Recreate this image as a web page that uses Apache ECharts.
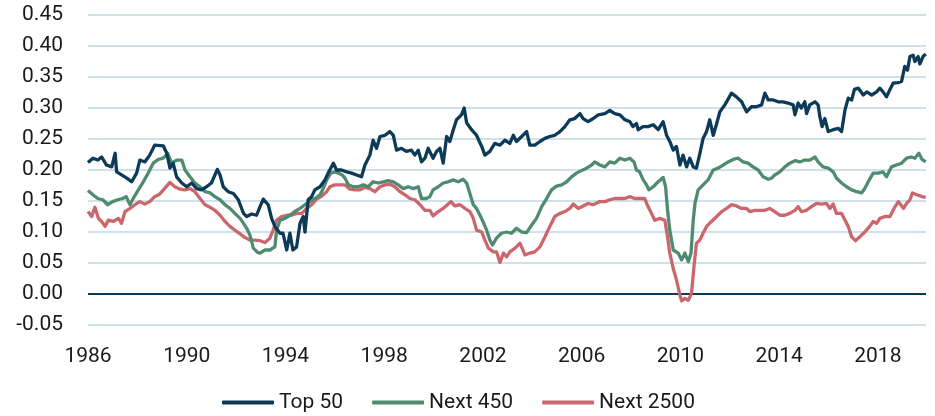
<!DOCTYPE html>
<html>
<head>
<meta charset="utf-8">
<script src="https://cdn.jsdelivr.net/npm/echarts@6/dist/echarts.min.js"></script>
<style>
html,body{margin:0;padding:0;background:#fff;}
#chart{width:935px;height:416px;}
</style>
</head>
<body>
<div id="chart"></div>
<script>
// ---- data (decimal years, share values) ----
const seriesNames = ['Top 50', 'Next 450', 'Next 2500'];
const yTicks = [-0.05, 0.45, 0.05]; // min, max, step
const xYears = [1986, 2019.95, 4];   // min, max, step

const top50Years = [1986.0,1986.2,1986.4,1986.55,1986.75,1986.96,1987.1,1987.16,1987.36,1987.57,1987.77,1987.97,1988.1,1988.3,1988.5,1988.7,1989.05,1989.19,1989.32,1989.45,1989.59,1989.8,1990.0,1990.2,1990.4,1990.6,1990.8,1991.0,1991.24,1991.35,1991.48,1991.68,1991.89,1992.09,1992.3,1992.43,1992.63,1992.83,1992.97,1993.1,1993.3,1993.44,1993.57,1993.78,1993.9,1994.05,1994.18,1994.3,1994.45,1994.59,1994.72,1994.79,1994.92,1995.06,1995.19,1995.4,1995.6,1995.73,1995.94,1996.07,1996.27,1996.48,1996.68,1996.88,1997.08,1997.22,1997.42,1997.55,1997.69,1997.83,1998.03,1998.23,1998.37,1998.5,1998.7,1998.9,1999.1,1999.24,1999.38,1999.51,1999.65,1999.78,1999.98,2000.12,2000.26,2000.39,2000.53,2000.66,2000.8,2000.93,2001.13,2001.24,2001.34,2001.54,2001.74,2001.95,2002.08,2002.28,2002.48,2002.69,2002.89,2003.09,2003.23,2003.36,2003.57,2003.77,2003.9,2004.1,2004.31,2004.51,2004.71,2004.91,2005.12,2005.32,2005.52,2005.72,2005.93,2006.06,2006.26,2006.47,2006.67,2006.94,2007.14,2007.34,2007.55,2007.75,2007.95,2008.08,2008.22,2008.29,2008.49,2008.69,2008.9,2009.1,2009.3,2009.44,2009.57,2009.71,2009.84,2009.98,2010.11,2010.25,2010.38,2010.52,2010.65,2010.79,2010.92,2011.06,2011.19,2011.33,2011.47,2011.6,2011.8,2012.07,2012.27,2012.48,2012.68,2012.88,2013.08,2013.29,2013.42,2013.56,2013.76,2013.96,2014.16,2014.36,2014.57,2014.64,2014.77,2014.9,2015.04,2015.11,2015.24,2015.45,2015.58,2015.65,2015.74,2015.85,2015.99,2016.19,2016.4,2016.53,2016.67,2016.8,2016.94,2017.05,2017.21,2017.41,2017.55,2017.75,2017.95,2018.08,2018.21,2018.35,2018.48,2018.62,2018.82,2018.96,2019.09,2019.2,2019.3,2019.43,2019.5,2019.63,2019.7,2019.83,2019.94];
const top50Values = [0.212,0.219,0.216,0.221,0.208,0.205,0.227,0.197,0.192,0.187,0.181,0.195,0.216,0.213,0.224,0.240,0.239,0.227,0.203,0.211,0.189,0.179,0.173,0.179,0.170,0.168,0.173,0.179,0.201,0.192,0.173,0.165,0.162,0.152,0.130,0.125,0.129,0.127,0.141,0.153,0.144,0.122,0.109,0.098,0.098,0.071,0.098,0.071,0.076,0.114,0.125,0.100,0.152,0.157,0.168,0.173,0.184,0.195,0.211,0.200,0.200,0.197,0.195,0.192,0.189,0.208,0.224,0.248,0.235,0.254,0.256,0.262,0.256,0.232,0.235,0.230,0.232,0.224,0.232,0.213,0.219,0.235,0.219,0.230,0.235,0.211,0.254,0.246,0.265,0.281,0.289,0.300,0.276,0.265,0.256,0.238,0.224,0.230,0.243,0.240,0.248,0.243,0.256,0.246,0.254,0.262,0.240,0.240,0.246,0.251,0.254,0.256,0.262,0.270,0.281,0.283,0.291,0.283,0.278,0.283,0.289,0.291,0.296,0.291,0.289,0.281,0.278,0.270,0.275,0.265,0.270,0.270,0.273,0.265,0.278,0.256,0.246,0.232,0.238,0.208,0.224,0.205,0.219,0.205,0.203,0.227,0.251,0.262,0.281,0.256,0.275,0.294,0.305,0.324,0.318,0.310,0.294,0.302,0.302,0.305,0.324,0.313,0.313,0.310,0.310,0.308,0.305,0.289,0.308,0.300,0.310,0.291,0.305,0.310,0.305,0.286,0.270,0.283,0.262,0.265,0.267,0.262,0.297,0.316,0.313,0.330,0.332,0.321,0.326,0.321,0.326,0.332,0.326,0.318,0.329,0.340,0.341,0.343,0.367,0.361,0.383,0.385,0.375,0.383,0.371,0.383,0.387];

const next450Years = [1986.0,1986.2,1986.4,1986.6,1986.8,1987.0,1987.2,1987.4,1987.55,1987.7,1987.83,1988.04,1988.24,1988.44,1988.64,1988.85,1989.05,1989.23,1989.39,1989.59,1989.8,1989.93,1990.13,1990.33,1990.54,1990.74,1990.94,1991.14,1991.35,1991.55,1991.75,1991.95,1992.16,1992.3,1992.43,1992.56,1992.7,1992.87,1992.97,1993.17,1993.37,1993.57,1993.64,1993.78,1993.98,1994.18,1994.38,1994.59,1994.79,1994.99,1995.19,1995.4,1995.53,1995.67,1995.84,1996.0,1996.14,1996.3,1996.41,1996.55,1996.75,1996.95,1997.15,1997.35,1997.55,1997.76,1997.96,1998.16,1998.37,1998.57,1998.77,1998.97,1999.18,1999.38,1999.51,1999.71,1999.85,1999.98,2000.19,2000.39,2000.59,2000.8,2001.0,2001.2,2001.34,2001.47,2001.61,2001.74,2001.88,2002.0,2002.15,2002.28,2002.39,2002.55,2002.75,2002.96,2003.16,2003.36,2003.57,2003.77,2003.97,2004.17,2004.38,2004.58,2004.78,2004.98,2005.19,2005.39,2005.59,2005.79,2005.99,2006.2,2006.4,2006.53,2006.74,2006.94,2007.14,2007.34,2007.55,2007.75,2007.95,2008.12,2008.22,2008.35,2008.49,2008.63,2008.72,2008.9,2009.1,2009.3,2009.4,2009.48,2009.57,2009.71,2009.91,2010.05,2010.18,2010.32,2010.43,2010.52,2010.59,2010.72,2010.92,2011.12,2011.33,2011.53,2011.73,2011.93,2012.14,2012.34,2012.54,2012.74,2012.94,2013.15,2013.35,2013.56,2013.7,2013.82,2014.03,2014.23,2014.43,2014.64,2014.84,2015.04,2015.24,2015.45,2015.58,2015.78,2015.99,2016.19,2016.32,2016.53,2016.73,2016.94,2017.14,2017.34,2017.47,2017.61,2017.81,2018.01,2018.21,2018.35,2018.55,2018.75,2018.96,2019.16,2019.36,2019.5,2019.66,2019.79,2019.94];
const next450Values = [0.167,0.160,0.154,0.152,0.144,0.149,0.152,0.154,0.157,0.144,0.154,0.168,0.181,0.195,0.211,0.217,0.219,0.227,0.211,0.216,0.216,0.200,0.189,0.179,0.173,0.165,0.163,0.157,0.152,0.144,0.138,0.130,0.122,0.114,0.106,0.095,0.074,0.067,0.066,0.071,0.071,0.076,0.103,0.119,0.122,0.127,0.133,0.138,0.144,0.149,0.154,0.160,0.170,0.184,0.195,0.197,0.195,0.192,0.187,0.176,0.173,0.173,0.176,0.173,0.181,0.179,0.181,0.183,0.181,0.176,0.170,0.173,0.170,0.173,0.154,0.154,0.157,0.168,0.173,0.179,0.181,0.184,0.181,0.185,0.179,0.162,0.144,0.138,0.127,0.117,0.103,0.087,0.079,0.090,0.098,0.100,0.098,0.106,0.100,0.099,0.111,0.122,0.141,0.154,0.168,0.174,0.176,0.181,0.189,0.195,0.199,0.203,0.208,0.213,0.208,0.205,0.213,0.211,0.219,0.216,0.219,0.213,0.200,0.197,0.184,0.176,0.168,0.173,0.181,0.188,0.173,0.135,0.103,0.071,0.066,0.055,0.066,0.052,0.066,0.119,0.146,0.168,0.176,0.184,0.200,0.203,0.208,0.213,0.217,0.219,0.213,0.211,0.205,0.200,0.189,0.185,0.187,0.192,0.197,0.205,0.211,0.215,0.213,0.216,0.216,0.221,0.213,0.205,0.203,0.197,0.187,0.179,0.173,0.168,0.165,0.163,0.170,0.181,0.195,0.195,0.197,0.189,0.205,0.208,0.211,0.219,0.221,0.219,0.227,0.217,0.213];

const next2500Years = [1986.0,1986.15,1986.28,1986.42,1986.55,1986.69,1986.82,1987.02,1987.23,1987.36,1987.5,1987.7,1987.9,1988.1,1988.3,1988.5,1988.7,1988.9,1989.1,1989.32,1989.52,1989.73,1989.93,1990.13,1990.33,1990.54,1990.74,1990.94,1991.14,1991.35,1991.55,1991.75,1991.95,1992.16,1992.36,1992.56,1992.76,1992.97,1993.17,1993.37,1993.5,1993.64,1993.84,1994.05,1994.25,1994.45,1994.66,1994.86,1995.06,1995.26,1995.47,1995.67,1995.8,1996.0,1996.2,1996.41,1996.61,1996.81,1997.02,1997.22,1997.42,1997.62,1997.83,1998.03,1998.23,1998.43,1998.64,1998.84,1999.04,1999.24,1999.45,1999.65,1999.85,1999.98,2000.19,2000.39,2000.59,2000.7,2000.86,2001.07,2001.27,2001.47,2001.61,2001.74,2001.95,2002.08,2002.22,2002.42,2002.55,2002.69,2002.83,2002.96,2003.09,2003.3,2003.5,2003.7,2003.9,2004.1,2004.31,2004.51,2004.71,2004.91,2005.12,2005.32,2005.52,2005.66,2005.86,2006.06,2006.26,2006.47,2006.74,2006.94,2007.14,2007.34,2007.55,2007.75,2007.95,2008.15,2008.35,2008.55,2008.69,2008.83,2008.96,2009.17,2009.37,2009.48,2009.57,2009.71,2009.84,2009.98,2010.05,2010.18,2010.32,2010.45,2010.55,2010.65,2010.79,2010.92,2011.06,2011.26,2011.47,2011.67,2011.87,2012.07,2012.27,2012.48,2012.68,2012.81,2013.02,2013.22,2013.42,2013.62,2013.82,2014.03,2014.23,2014.43,2014.64,2014.77,2014.9,2015.11,2015.31,2015.51,2015.72,2015.92,2016.06,2016.19,2016.32,2016.53,2016.67,2016.8,2016.94,2017.09,2017.26,2017.47,2017.67,2017.81,2017.95,2018.08,2018.29,2018.49,2018.7,2018.83,2019.04,2019.16,2019.3,2019.4,2019.58,2019.79,2019.94];
const next2500Values = [0.133,0.125,0.140,0.122,0.117,0.109,0.119,0.117,0.122,0.114,0.133,0.138,0.144,0.149,0.145,0.149,0.157,0.161,0.170,0.180,0.173,0.169,0.168,0.170,0.165,0.154,0.144,0.140,0.135,0.127,0.117,0.109,0.103,0.097,0.091,0.087,0.087,0.086,0.083,0.090,0.103,0.119,0.125,0.127,0.127,0.130,0.130,0.138,0.144,0.153,0.158,0.165,0.173,0.176,0.176,0.176,0.169,0.168,0.168,0.172,0.170,0.165,0.173,0.176,0.177,0.173,0.165,0.160,0.154,0.152,0.144,0.135,0.135,0.126,0.133,0.138,0.145,0.149,0.142,0.144,0.138,0.133,0.122,0.103,0.100,0.087,0.074,0.068,0.068,0.051,0.066,0.060,0.068,0.074,0.082,0.063,0.066,0.068,0.076,0.092,0.109,0.125,0.130,0.133,0.138,0.145,0.138,0.142,0.146,0.144,0.149,0.149,0.152,0.154,0.154,0.154,0.157,0.154,0.154,0.154,0.141,0.130,0.119,0.122,0.119,0.092,0.066,0.041,0.023,-0.002,-0.011,-0.007,-0.010,0.001,0.044,0.082,0.087,0.098,0.109,0.117,0.125,0.133,0.138,0.144,0.142,0.138,0.138,0.133,0.135,0.135,0.135,0.138,0.133,0.127,0.127,0.130,0.135,0.141,0.133,0.135,0.141,0.146,0.145,0.146,0.138,0.145,0.130,0.130,0.119,0.109,0.092,0.086,0.092,0.100,0.109,0.117,0.114,0.122,0.125,0.125,0.141,0.149,0.138,0.146,0.152,0.163,0.160,0.157,0.156];

// ---- chart ----
const colors = ['#0c3a57', '#4f8b6f', '#cb676c'];
function pairs(xs, ys) { return xs.map((x, i) => [x, ys[i]]); }

const chart = echarts.init(document.getElementById('chart'), null, {renderer: 'canvas'});
const gridColor = '#cfe1eb';
const splitColors = [];
for (let v = yTicks[0], i = 0; v <= yTicks[1] + 1e-9; v += yTicks[2], i++) {
  splitColors.push(Math.abs(v) < 1e-9 ? '#0c3a57' : gridColor);
}
const textColor = '#1a1a1a';
const fontFamily = 'Roboto, "Noto Sans", sans-serif';

const mk = (name, xs, ys, color, z) => ({
  name: name, type: 'line', data: pairs(xs, ys), showSymbol: false, symbol: 'none',
  lineStyle: {color: color, width: 3.3, join: 'round'}, itemStyle: {color: color},
  z: z, animation: false
});

chart.setOption({
  animation: false,
  color: colors,
  grid: {left: 88, right: 9, top: 15, bottom: 91, containLabel: false},
  xAxis: {
    type: 'value', min: xYears[0], max: xYears[1], interval: xYears[2],
    axisLine: {show: false}, axisTick: {show: false}, splitLine: {show: false},
    axisLabel: {
      show: true, showMaxLabel: false, margin: 21, fontSize: 21, color: textColor, fontFamily: fontFamily,
      formatter: v => ((Math.round(v) - xYears[0]) % xYears[2] === 0 && Math.abs(v - Math.round(v)) < 1e-6) ? String(Math.round(v)) : ''
    }
  },
  yAxis: {
    type: 'value', min: yTicks[0], max: yTicks[1], interval: yTicks[2],
    axisLine: {show: false}, axisTick: {show: false},
    splitLine: {show: true, lineStyle: {color: splitColors, width: 2}},
    axisLabel: {margin: 25, fontSize: 21, color: textColor, fontFamily: fontFamily,
      formatter: v => v.toFixed(2)}
  },
  legend: {
    data: seriesNames, left: 222, top: 392, padding: 0, icon: 'roundRect',
    itemWidth: 52, itemHeight: 4, itemGap: 29,
    textStyle: {fontSize: 21, color: textColor, fontFamily: fontFamily},
    selectedMode: false
  },
  series: [
    mk(seriesNames[2], next2500Years, next2500Values, colors[2], 2),
    mk(seriesNames[1], next450Years, next450Values, colors[1], 3),
    mk(seriesNames[0], top50Years, top50Values, colors[0], 4)
  ]
});
</script>
</body>
</html>
